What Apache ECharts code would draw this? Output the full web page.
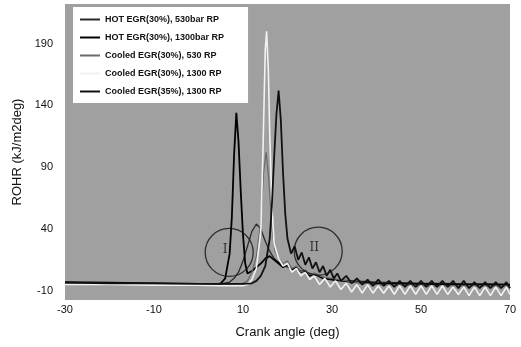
<!DOCTYPE html>
<html>
<head>
<meta charset="utf-8">
<script src="https://cdn.jsdelivr.net/npm/echarts@6/dist/echarts.min.js"></script>
<style>
  html, body { margin: 0; padding: 0; background: #fff; }
  #chart { width: 521px; height: 347px; }
</style>
</head>
<body>
<div id="chart"></div>
<script>
// series names, as in the legend
const seriesNames = [
  'HOT EGR(30%), 530bar RP',
  'HOT EGR(30%), 1300bar RP',
  'Cooled EGR(30%), 530 RP',
  'Cooled EGR(30%), 1300 RP',
  'Cooled EGR(35%), 1300 RP'
]

const xTicks = [-30, -10, 10, 30, 50, 70]
const yTicks = [-10, 40, 90, 140, 190]

// HOT EGR 30%, 530bar
const hot530Angle = [-30, -20, -10, 0, 5, 7, 8, 9, 10, 11, 12, 13, 14, 15, 16, 17, 18, 19, 20, 22, 24, 26, 28, 30, 35, 40, 45, 50, 55, 60, 65, 70]
const hot530Rohr = [-3.5, -4, -4, -4.5, -4.5, -3, 0, 5, 14, 26, 38, 44, 40, 30, 22, 16, 13, 11, 9, 7, 5, 3, 1, -1, -2, -3, -3.5, -4, -4, -4.5, -4.5, -5]

// HOT EGR 30%, 1300bar
const hot1300Angle = [-30, -20, -10, 0, 4, 5, 6, 7, 7.5, 8, 8.5, 9, 9.5, 10, 10.5, 11, 12, 13, 14, 15, 16, 17, 18, 19, 20, 21, 22, 23, 24, 25, 26, 28, 30, 35, 40, 50, 60, 70]
const hot1300Rohr = [-3, -3.5, -4, -4.5, -5, -4, 0, 20, 50, 100, 134, 110, 70, 35, 12, 4, 6, 9, 12, 16, 18, 15, 12, 9, 11, 7, 9, 5, 6, 2, 4, 0, -1, -3, -4, -4.5, -5, -5]

// Cooled EGR 30%, 530
const cool530Angle = [-30, -10, 5, 10, 11, 12, 13, 14, 14.6, 15.2, 15.8, 16.5, 17.2, 18, 19, 20, 21, 22, 23, 24, 25, 26, 28, 30, 35, 40, 50, 60, 70]
const cool530Rohr = [-4, -4.5, -4.5, -4, -2, 5, 18, 45, 85, 102, 80, 40, 22, 16, 12, 14, 8, 10, 5, 7, 3, 4, 1, 0, -3, -5, -6, -6, -7]

// Cooled EGR 30%, 1300
const cool1300Angle = [-30, -20, -10, 0, 5, 10, 11, 12, 13, 14, 14.5, 15, 15.3, 15.7, 16, 16.5, 17, 18, 19, 20, 21, 22, 23, 24, 25, 26, 27.2, 28.4, 29.6, 30.8, 32, 33.2, 34.4, 35.6, 36.8, 38, 39.2, 40.4, 41.6, 42.8, 44, 45.2, 46.4, 47.6, 48.8, 50, 51.2, 52.4, 53.6, 54.8, 56, 57.2, 58.4, 59.6, 60.8, 62, 63.2, 64.4, 65.6, 66.8, 68, 69.2, 70]
const cool1300Rohr = [-5, -5, -5.5, -5.5, -6, -6, -5, -1, 8, 38, 105, 185, 200, 168, 118, 58, 28, 16, 10, 12, 5, 8, 2, 5, -1, 2, -5, 0, -7, -2, -9, -4, -11, -5, -12, -5, -12, -6, -12, -6, -13, -6, -13, -6, -13, -6, -13, -6, -13, -6, -13, -7, -13, -7, -14, -7, -14, -7, -14, -7, -14, -7, -13]

// Cooled EGR 35%, 1300
const cool35Angle = [-30, -20, -10, 0, 5, 10, 12, 13, 14, 15, 16, 16.5, 17, 17.5, 18, 18.5, 19, 19.5, 20, 20.8, 21.6, 22.4, 23.2, 24, 24.8, 25.6, 26.4, 27.2, 28, 28.8, 29.6, 30.4, 31.2, 32, 33.2, 34.4, 35.6, 36.8, 38, 39.2, 40.4, 41.6, 42.8, 44, 45.2, 46.4, 47.6, 48.8, 50, 51.2, 52.4, 53.6, 54.8, 56, 57.2, 58.4, 59.6, 60.8, 62, 63.2, 64.4, 65.6, 66.8, 68, 69.2, 70]
const cool35Rohr = [-3.5, -4, -4, -4.5, -4.5, -4.5, -4, -2, 2, 10, 32, 60, 98, 132, 152, 128, 85, 52, 32, 20, 26, 15, 21, 11, 17, 8, 13, 5, 10, 2, 7, 0, 4, -2, 2, -4, 0, -5, -1, -6, -1, -6, -2, -7, -2, -7, -2, -7, -2, -7, -2, -7, -2, -7, -2, -8, -2, -8, -3, -8, -3, -8, -3, -8, -3, -8, -4]

// the two circled regions (centre angle, centre ROHR, label)
const circleAngle = [6.9, 26.9]
const circleRohr = [21, 22]
const circleText = ['I', 'II']

const zip = (xs, ys) => xs.map((x, i) => [x, ys[i]])

const lineColors = ['#2a2a2a', '#000000', '#6a6a6a', '#f2f2f2', '#111111']
const lineWidths = [1.3, 1.8, 1.2, 1.6, 1.8]
const lineData = [
  zip(hot530Angle, hot530Rohr),
  zip(hot1300Angle, hot1300Rohr),
  zip(cool530Angle, cool530Rohr),
  zip(cool1300Angle, cool1300Rohr),
  zip(cool35Angle, cool35Rohr)
]

const font = 'Liberation Sans, Arial, sans-serif'

const chart = echarts.init(document.getElementById('chart'))

const series = seriesNames.map((name, i) => ({
  name: name,
  type: 'line',
  symbol: 'none',
  data: lineData[i],
  lineStyle: { color: lineColors[i], width: lineWidths[i] },
  itemStyle: { color: lineColors[i] },
  z: 2 + i
}))

series.push({
  name: 'regions',
  type: 'scatter',
  symbol: 'circle',
  symbolSize: 48,
  data: circleAngle.map((x, i) => ({ value: [x, circleRohr[i]], name: circleText[i] })),
  itemStyle: { color: 'rgba(0,0,0,0)', borderColor: '#111', borderWidth: 1.3 },
  label: {
    show: true,
    position: 'inside',
    formatter: p => p.name,
    color: '#111',
    fontSize: 12,
    fontFamily: 'DejaVu Serif, serif',
    offset: [-4, -3]
  },
  z: 10
})

chart.setOption({
  animation: false,
  backgroundColor: '#fff',
  grid: {
    left: 65, right: 11, top: 4, bottom: 47,
    show: true, backgroundColor: '#a0a0a0', borderWidth: 0
  },
  legend: {
    data: seriesNames,
    orient: 'vertical',
    left: 73, top: 7,
    backgroundColor: '#fff',
    padding: [7, 24, 6, 7],
    icon: 'rect',
    itemWidth: 20, itemHeight: 2, itemGap: 7,
    textStyle: { fontSize: 9, fontWeight: 'bold', color: '#111', fontFamily: font, lineHeight: 11 }
  },
  xAxis: {
    type: 'value',
    min: -30, max: 70, interval: 20,
    name: 'Crank angle (deg)',
    nameLocation: 'middle',
    nameGap: 26,
    nameTextStyle: { fontSize: 13, color: '#111', fontFamily: font },
    axisLine: { show: false },
    axisTick: { show: false },
    splitLine: { show: false },
    axisLabel: { fontSize: 11, color: '#111', margin: 4, fontFamily: font, customValues: xTicks }
  },
  yAxis: {
    type: 'value',
    min: -17.5, max: 222,
    name: 'ROHR (kJ/m2deg)',
    nameLocation: 'middle',
    nameGap: 37,
    nameTextStyle: { fontSize: 13, color: '#111', fontFamily: font },
    axisLine: { show: false },
    axisTick: { show: false },
    splitLine: { show: false },
    axisLabel: { fontSize: 11, color: '#111', margin: 12, fontFamily: font, customValues: yTicks }
  },
  series: series
})
</script>
</body>
</html>
